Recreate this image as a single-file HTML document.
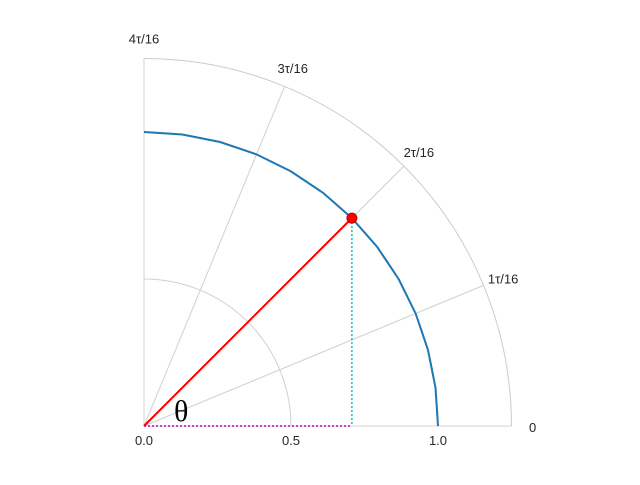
<!DOCTYPE html>
<html><head><meta charset="utf-8"><style>
body{margin:0;background:#fff;}
svg text{font-family:"Liberation Sans",sans-serif;font-size:13px;fill:#262626;}
</style></head><body>
<svg id="chart" width="640" height="480">
<g id="grid"></g>
<g id="marks"></g>
<g id="labels"></g>
</svg>
<script>
const radialTicks=[0.5,1.0];
const radialTickLabels=["0.0","0.5","1.0"];
const radialTickValues=[0,0.5,1.0];
const angleTicks=[0,1,2,3,4];
const angleLabels=["0","1τ/16","2τ/16","3τ/16","4τ/16"];
const curveTheta=[0,0.1309,0.2618,0.3927,0.5236,0.6545,0.7854,0.9163,1.0472,1.1781,1.309,1.4399,1.5708];
const curveR=[1,1,1,1,1,1,1,1,1,1,1,1,1];
const pointTheta=[0.7854];
const pointR=[1];
const rMax=1.25;
const cx=144,cy=426,scale=294;
const ns="http://www.w3.org/2000/svg";
function X(r,t){return cx+r*scale*Math.cos(t);}
function Y(r,t){return cy-r*scale*Math.sin(t);}
function mk(tag,attrs,parent){const e=document.createElementNS(ns,tag);for(const k in attrs)e.setAttribute(k,attrs[k]);parent.appendChild(e);return e;}
const grid=document.getElementById('grid'),marks=document.getElementById('marks'),labels=document.getElementById('labels');
function arc(r){return `M${X(r,0)},${Y(r,0)} A${r*scale},${r*scale} 0 0 0 ${X(r,Math.PI/2)},${Y(r,Math.PI/2)}`;}
radialTicks.forEach(r=>{const e=mk('path',{d:arc(r),fill:'none',stroke:'#d0d0d0','stroke-width':1},grid);

});
angleTicks.forEach((k,i)=>{const t=k*Math.PI/8;
const e=mk('line',{x1:cx,y1:cy,x2:X(rMax,t),y2:Y(rMax,t),stroke:'#d0d0d0','stroke-width':1},grid);


const tx=mk('text',{x:X(rMax+0.072,t),y:Y(rMax+0.072,t)+6,'text-anchor':'middle'},labels);
tx.textContent=angleLabels[i];

});
const outer=mk('path',{d:arc(rMax),fill:'none',stroke:'#cccccc','stroke-width':1},grid);


radialTickValues.forEach((v,i)=>{const tx=mk('text',{x:X(v,0),y:cy+19,'text-anchor':'middle'},labels);
tx.textContent=radialTickLabels[i];

});
const pts=curveTheta.map((t,i)=>X(curveR[i],t)+','+Y(curveR[i],t)).join(' ');
const c=mk('polyline',{points:pts,fill:'none',stroke:'#1f77b4','stroke-width':2},marks);


const pt=pointTheta[0],pr=pointR[0];
const px=X(pr,pt),py=Y(pr,pt);
const l=mk('line',{x1:cx,y1:cy,x2:px,y2:py,stroke:'red','stroke-width':2},marks);


const v=mk('line',{x1:px,y1:py,x2:px,y2:cy,stroke:'#00bfbf','stroke-width':1.5,'stroke-dasharray':'2,2'},marks);


const h=mk('line',{x1:cx,y1:cy,x2:px,y2:cy,stroke:'#bf00bf','stroke-width':1.5,'stroke-dasharray':'2,2'},marks);


const d=mk('circle',{cx:px,cy:py,r:5,fill:'red',stroke:'#c00000','stroke-width':1},marks);


const th=mk('text',{x:174,y:421,style:'font-family:"Liberation Serif",serif;font-size:30px;fill:#000'},labels);
th.textContent='θ';


</script>
</body></html>
